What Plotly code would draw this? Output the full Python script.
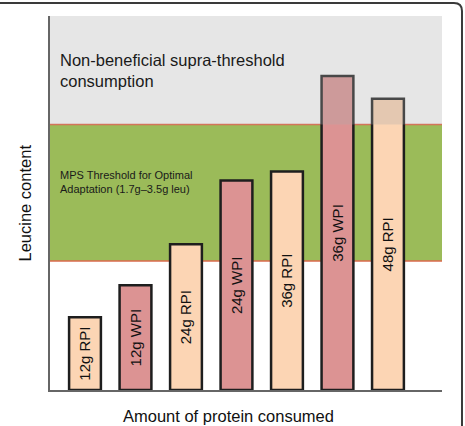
import plotly.graph_objects as go

labels = ["12g RPI", "12g WPI", "24g RPI", "24g WPI", "36g RPI", "36g WPI", "48g RPI"]
leucine = [0.96, 1.38, 1.92, 2.76, 2.88, 4.14, 3.84]
protein_type = ["RPI", "WPI", "RPI", "WPI", "RPI", "WPI", "RPI"]
band_low, band_high = 1.7, 3.5
y_top = 4.93

colors = {"RPI": "#FCD5B4", "WPI": "#DC9393"}
xs = list(range(len(labels)))

fig = go.Figure()
fig.add_trace(go.Bar(
    x=xs, y=leucine, width=0.63,
    marker=dict(color=[colors[t] for t in protein_type], line=dict(color="#1e1e1e", width=2.5)),
    text=labels, textposition="inside", insidetextanchor="middle", textangle=-90,
    textfont=dict(family="Liberation Sans, Arial", size=15, color="#111"),
    hoverinfo="skip",
))

shapes = [
    dict(type="rect", xref="paper", yref="y", x0=0, x1=1, y0=band_low, y1=band_high,
         fillcolor="#9BBB59", line=dict(width=0), layer="below"),
    dict(type="line", xref="paper", yref="y", x0=0, x1=1, y0=band_low, y1=band_low,
         line=dict(color="#DA6A4C", width=1.5), layer="below"),
    dict(type="line", xref="paper", yref="y", x0=0, x1=1, y0=band_high, y1=band_high,
         line=dict(color="#DA6A4C", width=1.5), layer="below"),
    dict(type="rect", xref="paper", yref="y", x0=0, x1=1, y0=band_high, y1=y_top,
         fillcolor="rgba(172,172,172,0.3)", line=dict(width=0), layer="above"),
    dict(type="path", xref="paper", yref="paper",
         path="M -0.14,1.0348 L 1.0306,1.0348 Q 1.051,1.0348 1.051,1.0134 L 1.051,-0.12",
         line=dict(color="#3a3a3a", width=2)),
]

annotations = [
    dict(text="Non-beneficial supra-threshold<br>consumption", xref="paper", yref="paper",
         x=0.0204, y=0.853, xanchor="left", yanchor="middle", align="left", showarrow=False,
         font=dict(family="Liberation Sans, Arial", size=16.5, color="#1a1a1a")),
    dict(text="MPS Threshold for Optimal<br>Adaptation (1.7g–3.5g leu)", xref="paper", yref="paper",
         x=0.0204, y=0.556, xanchor="left", yanchor="middle", align="left", showarrow=False,
         font=dict(family="Liberation Sans, Arial", size=11, color="#1a1a1a")),
    dict(text="Leucine content", xref="paper", yref="paper", x=-0.065, y=0.5,
         xanchor="center", yanchor="middle", textangle=-90, showarrow=False,
         font=dict(family="Liberation Sans, Arial", size=16.5, color="#111")),
    dict(text="Amount of protein consumed", xref="paper", yref="paper", x=0.455, y=-0.0695,
         xanchor="center", yanchor="middle", showarrow=False,
         font=dict(family="Liberation Sans, Arial", size=16.5, color="#111")),
]

fig.update_layout(
    width=465, height=426,
    margin=dict(l=50, r=23, t=16, b=36),
    paper_bgcolor="white", plot_bgcolor="white",
    showlegend=False,
    shapes=shapes, annotations=annotations,
    xaxis=dict(range=[-0.693, 7.07], showticklabels=False, ticks="", showgrid=False,
               zeroline=False, showline=True, linecolor="#666", linewidth=1.5),
    yaxis=dict(range=[0, y_top], showticklabels=False, ticks="", showgrid=False,
               zeroline=False, showline=True, linecolor="#666", linewidth=1.5),
    uniformtext=dict(mode=False),
)

fig.write_html("out.html")
